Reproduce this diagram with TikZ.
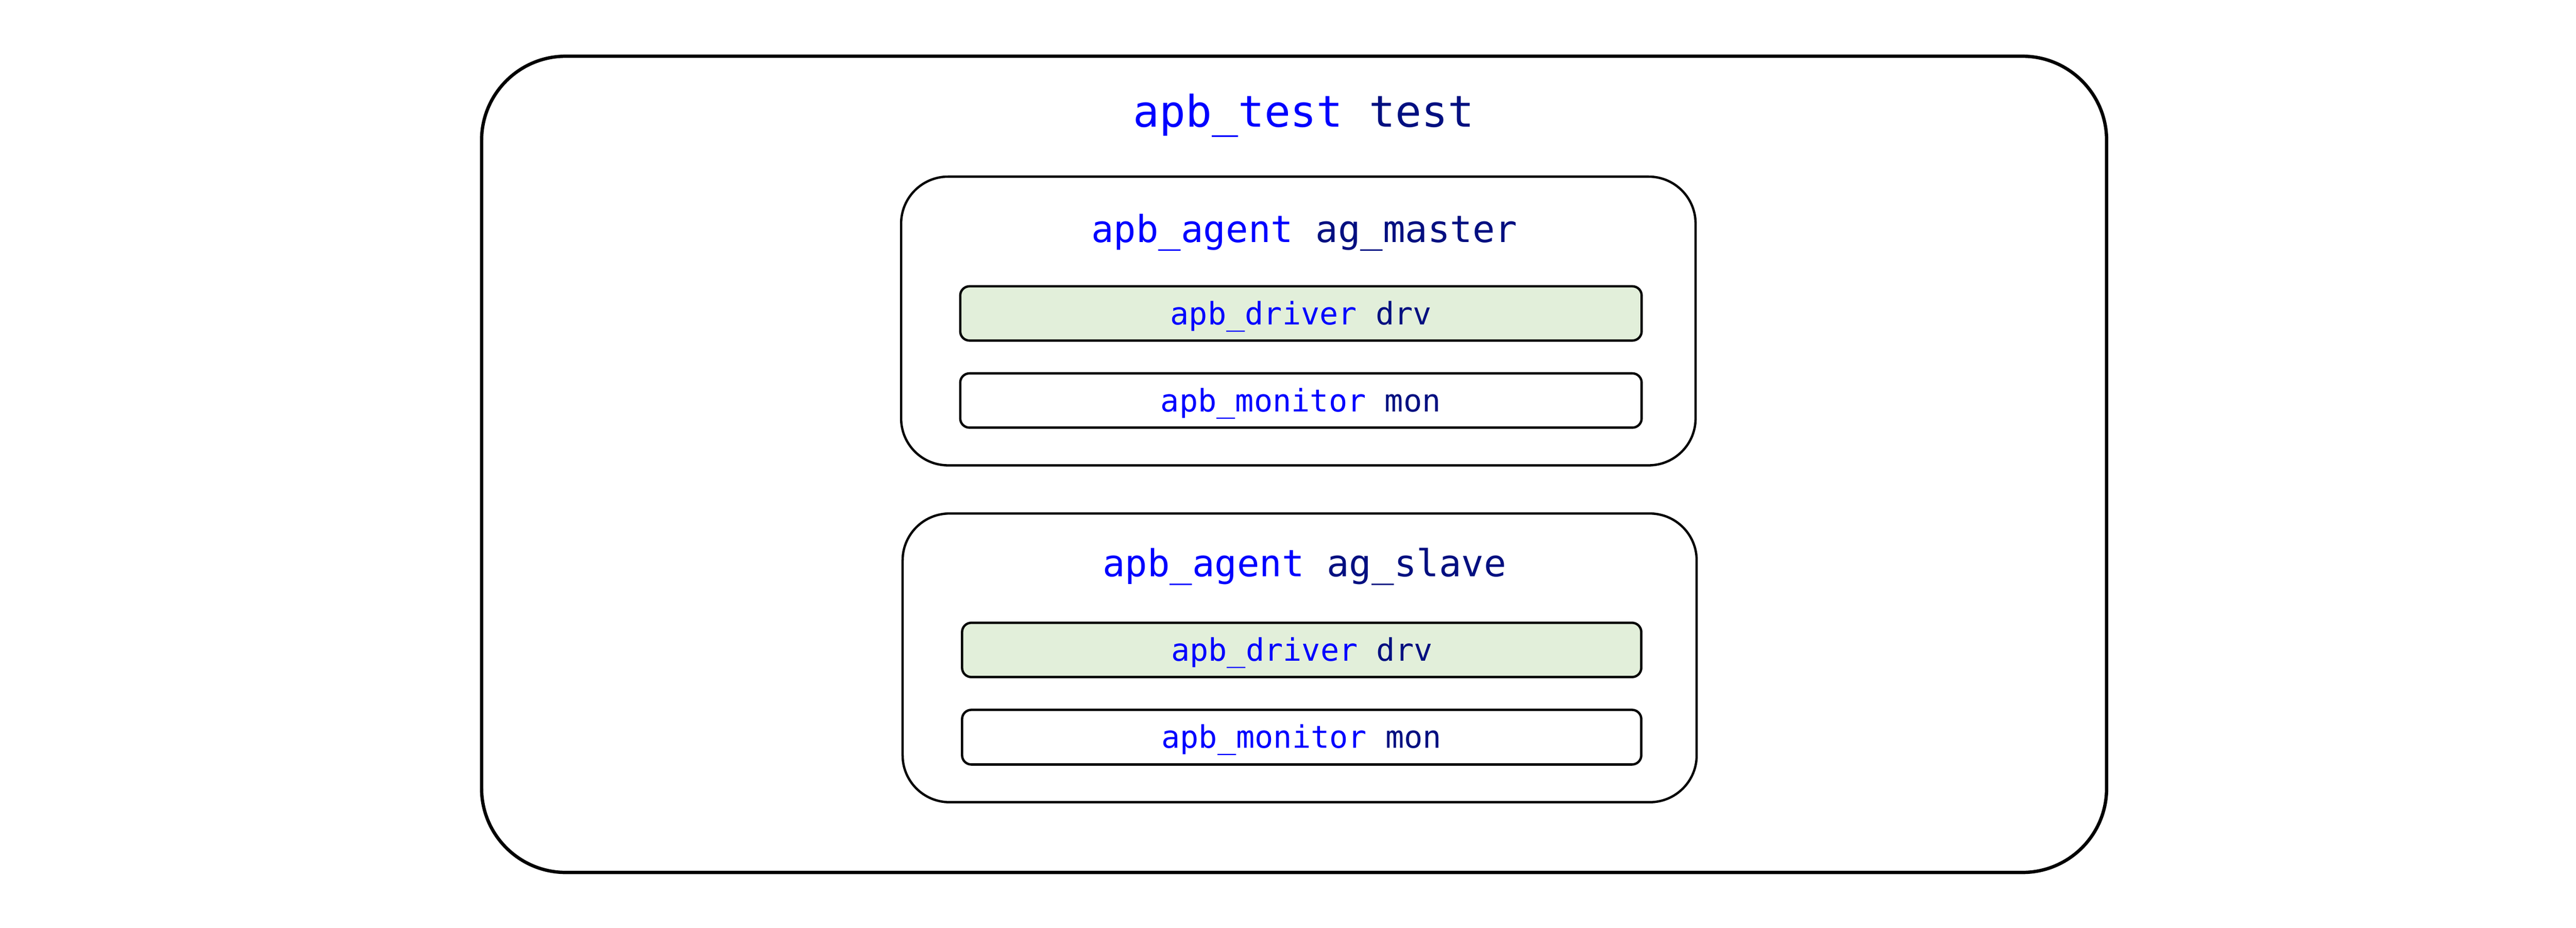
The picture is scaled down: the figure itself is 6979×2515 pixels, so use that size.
\documentclass[tikz,border=0pt]{standalone}
\usepackage{fontspec}
\newfontfamily\uvmmono{DejaVu Sans Mono}
\definecolor{tyblue}{HTML}{0000FF}
\definecolor{instnavy}{HTML}{000F80}
\definecolor{drvgreen}{HTML}{E2EFDA}
\tikzset{
  outerbox/.style={draw=black, line width=2.56pt, rounded corners=2.28cm, inner sep=0pt, outer sep=0pt, fill=white},
  agentbox/.style={draw=black, line width=1.8pt, rounded corners=1.27cm, inner sep=0pt, outer sep=0pt, fill=white, minimum width=21.51cm, minimum height=7.82cm},
  leafbox/.style={draw=black, line width=1.8pt, rounded corners=0.25cm, inner sep=0pt, outer sep=0pt, minimum height=1.47cm},
  drvbox/.style={leafbox, fill=drvgreen},
  monbox/.style={leafbox, fill=white},
  lbl/.style={anchor=base, inner sep=0pt, outer sep=0pt},
  titlefont/.style={font=\uvmmono\fontsize{33.6}{40}\selectfont},
  agentfont/.style={font=\uvmmono\fontsize{28.7}{34}\selectfont},
  leaffont/.style={font=\uvmmono\fontsize{23.9}{29}\selectfont}
}
\begin{document}
\begin{tikzpicture}[x=0.01cm, y=-0.01cm]
\useasboundingbox (0,0) rectangle (6979,2515);
% outer test box
\node[outerbox, minimum width=44.00cm, minimum height=22.11cm] (test) at (3506,1258.5) {};
\node[lbl, titlefont] (testlbl) at (3532,344) {\textcolor{tyblue}{apb\_test} \textcolor{instnavy}{test}};
% master agent
\node[agentbox] (master) at (3517.5,870) {};
\node[lbl, agentfont] (masterlbl) at (3534,657) {\textcolor{tyblue}{apb\_agent} \textcolor{instnavy}{ag\_master}};
\node[drvbox, minimum width=18.45cm] (mdrv) at (3524.5,849.5) {};
\node[lbl, leaffont] (mdrvlbl) at (3525,880) {\textcolor{tyblue}{apb\_driver} \textcolor{instnavy}{drv}};
\node[monbox, minimum width=18.45cm] (mmon) at (3524.5,1085.5) {};
\node[lbl, leaffont] (mmonlbl) at (3524,1116) {\textcolor{tyblue}{apb\_monitor} \textcolor{instnavy}{mon}};
% slave agent
\node[agentbox, minimum width=21.50cm] (slave) at (3521,1783) {};
\node[lbl, agentfont] (slavelbl) at (3534,1563) {\textcolor{tyblue}{apb\_agent} \textcolor{instnavy}{ag\_slave}};
\node[drvbox, minimum width=18.39cm] (sdrv) at (3526.5,1761.5) {};
\node[lbl, leaffont] (sdrvlbl) at (3527,1792) {\textcolor{tyblue}{apb\_driver} \textcolor{instnavy}{drv}};
\node[monbox, minimum width=18.39cm, minimum height=1.48cm] (smon) at (3526.5,1998) {};
\node[lbl, leaffont] (smonlbl) at (3526,2028) {\textcolor{tyblue}{apb\_monitor} \textcolor{instnavy}{mon}};
\end{tikzpicture}
\end{document}
